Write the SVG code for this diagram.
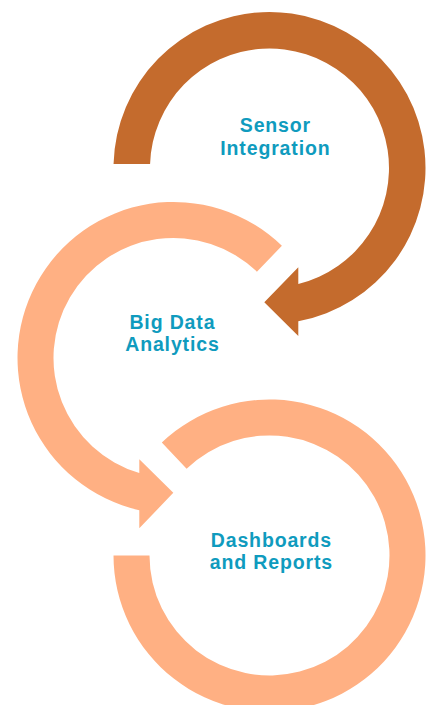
<svg xmlns="http://www.w3.org/2000/svg" width="427" height="705" viewBox="0 0 427 705">
  <style>
    .dark { fill: #C46B2D; }
    .light { fill: #FFB083; }
    .label { font-family: "Liberation Sans", Arial, sans-serif; font-weight: 700; font-size: 19.5px; letter-spacing: 0.85px; fill: #0F9BBE; text-anchor: middle; }
  </style>
  <rect width="427" height="705" fill="#FFFFFF"/>
  <g id="connectors">
    <path id="arc-sensor" class="dark" d="M 113.55 164 A 156 156 0 1 1 298.3 321.3 L 298.3 336 L 264.3 302.3 L 298.3 267.3 L 298.3 284 A 119.5 119.5 0 1 0 150.07 164 Z"/>
    <path id="arc-bigdata" class="light" d="M 281.9 245.8 A 156 156 0 1 0 139.3 510.2 L 139.3 528.3 L 173.3 492.8 L 139.3 459.3 L 139.3 473 A 120 120 0 1 1 256.9 271.7 Z"/>
    <path id="arc-dashboards" class="light" d="M 113.5 555.5 A 156 156 0 1 0 161.8 442.6 L 186.6 468.7 A 120 120 0 1 1 149.5 555.5 Z"/>
  </g>
  <g id="node-sensor">
    <text class="label" x="275.4" y="131.7">Sensor</text>
    <text class="label" x="275.4" y="155">Integration</text>
  </g>
  <g id="node-bigdata">
    <text class="label" x="172.4" y="328.5">Big Data</text>
    <text class="label" x="172.4" y="351">Analytics</text>
  </g>
  <g id="node-dashboards">
    <text class="label" x="271.4" y="546.7">Dashboards</text>
    <text class="label" x="271.4" y="568.5">and Reports</text>
  </g>
</svg>
